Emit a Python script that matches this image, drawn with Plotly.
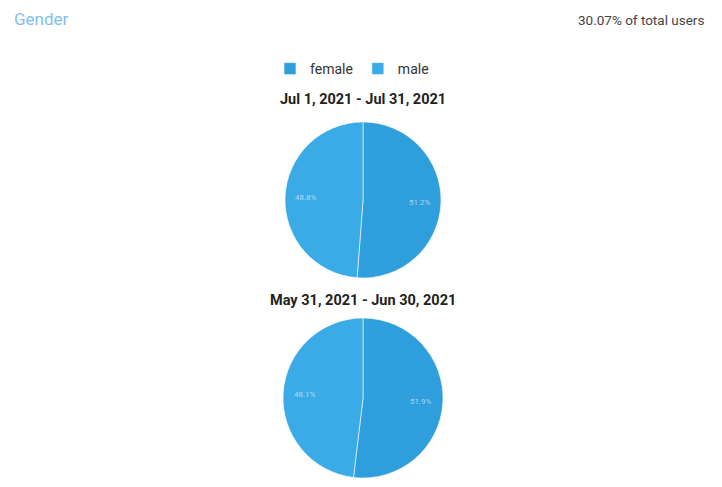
import math
import plotly.graph_objects as go

labels = ["female", "male"]
jul_values = [51.2, 48.8]
jun_values = [51.9, 48.1]
period_titles = ["Jul 1, 2021 - Jul 31, 2021", "May 31, 2021 - Jun 30, 2021"]
colors = ["#2e9edc", "#3aabe7"]

W, H = 722, 487

def px_y(p):
    return 1 - p / H

pies = [
    dict(values=jul_values, name=period_titles[0], cx=363, cy=200, r=78, ty=100),
    dict(values=jun_values, name=period_titles[1], cx=363, cy=398, r=80, ty=300),
]

fig = go.Figure()
ann = []
for i, p in enumerate(pies):
    fig.add_trace(go.Pie(
        values=p["values"], labels=labels, name=p["name"],
        sort=False, direction="clockwise", rotation=0,
        marker=dict(colors=colors, line=dict(color="white", width=0.6)),
        textinfo="none", hoverinfo="label+percent",
        domain=dict(x=[(p["cx"] - p["r"]) / W, (p["cx"] + p["r"]) / W],
                    y=[px_y(p["cy"] + p["r"]), px_y(p["cy"] - p["r"])]),
        showlegend=(i == 0),
    ))
    total = sum(p["values"])
    start = 0.0
    for v in p["values"]:
        mid = (start + v / 2) / total * 2 * math.pi
        start += v
        lx = p["cx"] + 0.73 * p["r"] * math.sin(mid)
        ly = p["cy"] - 0.73 * p["r"] * math.cos(mid)
        ann.append(dict(text=f"{v / total * 100:.1f}%", x=lx / W, y=px_y(ly),
                        xanchor="center", yanchor="middle",
                        font=dict(size=8, color="rgba(255,255,255,0.6)", family="Roboto")))
    ann.append(dict(text="<b>" + p["name"] + "</b>", x=p["cx"] / W, y=px_y(p["ty"]),
                    xanchor="center", yanchor="middle",
                    font=dict(size=14.5, color="#222222", family="Roboto")))

ann += [
    dict(text="Gender", x=12 / W, y=px_y(19), xanchor="left", yanchor="middle",
         font=dict(size=17, color="#7fc0f0", family="Roboto")),
    dict(text="30.07% of total users", x=706 / W, y=px_y(20), xanchor="right", yanchor="middle",
         font=dict(size=13.5, color="#444444", family="Roboto")),
]
for a in ann:
    a.update(xref="paper", yref="paper", showarrow=False)

fig.update_layout(
    width=W, height=H,
    margin=dict(l=0, r=0, t=0, b=0),
    paper_bgcolor="white", plot_bgcolor="white",
    font=dict(family="Roboto", color="#333333"),
    legend=dict(orientation="h", x=0.5 - 9 / W, xanchor="center", y=px_y(53), yanchor="top",
                font=dict(size=14, color="#333333", family="Roboto"),
                itemwidth=30, traceorder="normal"),
    annotations=ann,
)
fig.write_html("out.html")
